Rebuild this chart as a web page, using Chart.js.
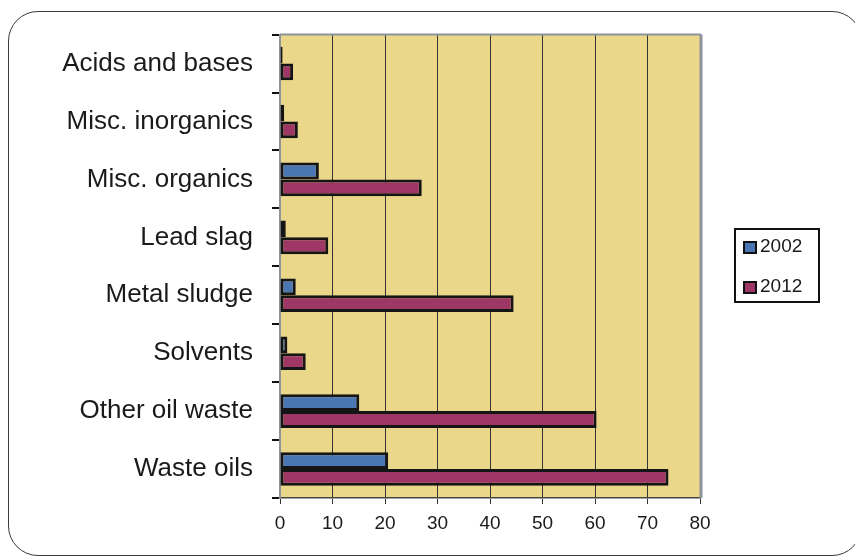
<!DOCTYPE html>
<html lang="en">
<head>
    <meta charset="UTF-8">
    <title>Hazardous waste 2002 vs 2012</title>
    <script src="https://cdn.jsdelivr.net/npm/chart.js"></script>
    <style>
        html, body { margin: 0; padding: 0; background: #fff; }
        .wrap { position: relative; width: 855px; height: 559px; overflow: hidden; }
        .frame {
            position: absolute; left: 8px; top: 11px; width: 854px; height: 545px;
            border: 1.5px solid #3a3a3a; border-radius: 30px; box-sizing: border-box;
        }
        canvas { position: absolute; left: 0; top: 0; }
    </style>
</head>
<body>
<div class="wrap">
    <div class="frame"></div>
    <canvas id="chart" width="855" height="559"></canvas>
</div>

<script>
    const categories = ['Acids and bases', 'Misc. inorganics', 'Misc. organics', 'Lead slag',
        'Metal sludge', 'Solvents', 'Other oil waste', 'Waste oils'];
    const values2002 = [0.5, 0.8, 7.4, 1.1, 3.0, 1.4, 15.1, 20.6];
    const values2012 = [2.5, 3.4, 27.0, 9.2, 44.5, 4.9, 60.3, 74.0];
    const xTicks = [0, 10, 20, 30, 40, 50, 60, 70, 80];

    // yellow plot background, grey frame on top/right, and the boxed legend
    const plotDecor = {
        id: 'plotDecor',
        beforeDraw(chart) {
            const a = chart.chartArea, ctx = chart.ctx;
            ctx.save();
            ctx.fillStyle = '#EAD78A';
            ctx.fillRect(a.left, a.top, a.right - a.left, a.bottom - a.top);
            ctx.restore();
        },
        afterDraw(chart) {
            const a = chart.chartArea, ctx = chart.ctx;
            ctx.save();
            ctx.strokeStyle = '#8d9398';
            ctx.lineWidth = 2;
            ctx.beginPath();
            ctx.moveTo(a.left, a.top);
            ctx.lineTo(a.right + 1, a.top);
            ctx.stroke();
            ctx.lineWidth = 3;
            ctx.beginPath();
            ctx.moveTo(a.right + 1, a.top);
            ctx.lineTo(a.right + 1, a.bottom);
            ctx.stroke();

            // legend
            ctx.strokeStyle = '#111';
            ctx.lineWidth = 2;
            ctx.strokeRect(735, 229, 84, 73);
            ctx.font = '19px "Liberation Sans", Arial, sans-serif';
            ctx.textBaseline = 'middle';
            chart.data.datasets.forEach((ds, i) => {
                const y = 247 + i * 40;
                ctx.fillStyle = ds.backgroundColor;
                ctx.fillRect(744, y - 5, 12, 11);
                ctx.lineWidth = 2;
                ctx.strokeStyle = '#111';
                ctx.strokeRect(744, y - 5, 12, 11);
                ctx.fillStyle = '#1a1a1a';
                ctx.fillText(ds.label, 760, y);
            });
            ctx.restore();
        }
    };

    new Chart(document.getElementById('chart'), {
        type: 'bar',
        data: {
            labels: categories,
            datasets: [{
                label: '2002',
                data: values2002,
                backgroundColor: '#4A77B4',
                borderColor: '#151515',
                borderWidth: 3,
                borderSkipped: false
            }, {
                label: '2012',
                data: values2012,
                backgroundColor: '#9E3765',
                borderColor: '#151515',
                borderWidth: 3,
                borderSkipped: false
            }]
        },
        options: {
            indexAxis: 'y',
            responsive: false,
            animation: false,
            datasets: { bar: { categoryPercentage: 0.58, barPercentage: 1.0 } },
            layout: { padding: { left: 0, right: 155, top: 34, bottom: 0 } },
            plugins: { legend: { display: false }, tooltip: { enabled: false } },
            scales: {
                x: {
                    min: 0,
                    max: 80,
                    afterBuildTicks: scale => { scale.ticks = xTicks.map(v => ({ value: v })); },
                    afterFit: scale => { scale.height = 61; },
                    grid: { color: '#333', lineWidth: 1, tickLength: 6 },
                    border: { color: '#444', width: 1.5 },
                    ticks: {
                        color: '#1a1a1a',
                        padding: 8,
                        font: { family: '"Liberation Sans", Arial, sans-serif', size: 19 }
                    }
                },
                y: {
                    afterFit: scale => { scale.width = 280; },
                    grid: { drawOnChartArea: false, color: '#111', lineWidth: 2, tickLength: 8, offset: true },
                    border: { color: '#8d9398', width: 2 },
                    ticks: {
                        color: '#1a1a1a',
                        padding: 19,
                        font: { family: '"Liberation Sans", Arial, sans-serif', size: 26 }
                    }
                }
            }
        },
        plugins: [plotDecor]
    });
</script>
</body>
</html>
